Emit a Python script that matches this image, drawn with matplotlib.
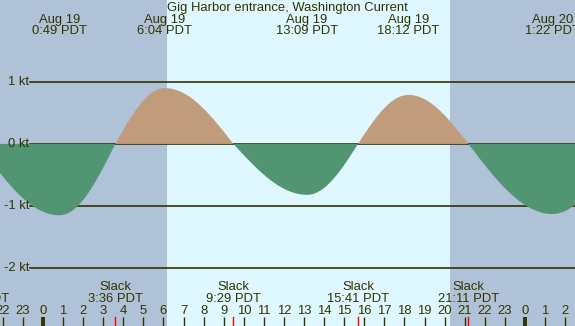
import matplotlib
matplotlib.use("Agg")
import matplotlib.pyplot as plt
import matplotlib.transforms as mtransforms
import numpy as np

# ---------------------------------------------------------------------------
# Data (hours since Aug 19 00:00 PDT)
# ---------------------------------------------------------------------------
event_hours = [-3.22, 0.817, 3.6, 6.067, 9.483, 13.15, 15.683, 18.2, 21.183, 25.367, 28.75]
event_kt    = [0.0, -1.15, 0.0, 0.90, 0.0, -0.82, 0.0, 0.79, 0.0, -1.13, 0.0]

peak_hours  = [0.817, 6.067, 13.15, 18.2, 25.367]
peak_dates  = ["Aug 19", "Aug 19", "Aug 19", "Aug 19", "Aug 20"]
peak_labels = ["0:49 PDT", "6:04 PDT", "13:09 PDT", "18:12 PDT", "1:22 PDT"]

slack_hours  = [-3.22, 3.6, 9.483, 15.683, 21.183]
slack_labels = ["20:47 PDT", "3:36 PDT", "9:29 PDT", "15:41 PDT", "21:11 PDT"]

sunrise, sunset = 6.16, 20.27
kt_levels = [1, 0, -1, -2]
hour_ticks = list(range(-2, 27))

# ---------------------------------------------------------------------------
# Style
# ---------------------------------------------------------------------------
C_TEXT  = "#333300"
C_NIGHT = "#b0c2d8"
C_DAY   = "#dff7fe"
C_FLOOD = "#c09c7c"
C_EBB   = "#529572"
FS = 9.4
plt.rcParams["font.family"] = ["Liberation Sans", "DejaVu Sans"]

X0, X1 = -2.14, 26.49
Y0, Y1 = -2.935, 2.32

fig = plt.figure(figsize=(5.75, 3.26), dpi=100)
ax = fig.add_axes([0, 0, 1, 1])
ax.set_xlim(X0, X1)
ax.set_ylim(Y0, Y1)
ax.axis("off")
tr = mtransforms.blended_transform_factory(ax.transData, ax.transAxes)
H = 326.0


def ypx(p):
    """pixel row from top -> axes fraction"""
    return 1 - p / H


# background: night / day
ax.axvspan(X0, sunrise, color=C_NIGHT, zorder=0, lw=0)
ax.axvspan(sunrise, sunset, color=C_DAY, zorder=0, lw=0)
ax.axvspan(sunset, X1, color=C_NIGHT, zorder=0, lw=0)

# current curve: quarter-sine segments between slack and peak events
t = np.linspace(X0, X1, 1200)
v = np.zeros_like(t)
for i in range(len(event_hours) - 1):
    a, b = event_hours[i], event_hours[i + 1]
    va, vb = event_kt[i], event_kt[i + 1]
    m = (t >= a) & (t <= b)
    f = (t[m] - a) / (b - a)
    if va == 0:
        v[m] = vb * np.sin(np.pi / 2 * f)
    else:
        v[m] = va * np.cos(np.pi / 2 * f)

# kt grid lines + labels
xline = X0 + 30 / 575 * (X1 - X0)
for k in kt_levels:
    ax.plot([xline, X1], [k, k], color=C_TEXT, lw=1.2, zorder=1)
    ax.text(X0 + 29 / 575 * (X1 - X0), k, f"{k} kt", fontsize=FS, color=C_TEXT,
            ha="right", va="center", zorder=3)

ax.fill_between(t, 0, v, where=v >= 0, color=C_FLOOD, lw=0, zorder=2)
ax.fill_between(t, 0, v, where=v <= 0, color=C_EBB, lw=0, zorder=2)

# title and peak labels
ax.text(0.5, ypx(7.5), "Gig Harbor entrance, Washington Current",
        transform=ax.transAxes, fontsize=FS, color=C_TEXT,
        ha="center", va="center", zorder=4)
for h, d, lab in zip(peak_hours, peak_dates, peak_labels):
    ax.text(h, ypx(20), d, transform=tr, fontsize=FS, color=C_TEXT,
            ha="center", va="center", zorder=4)
    ax.text(h, ypx(31.5), lab, transform=tr, fontsize=FS, color=C_TEXT,
            ha="center", va="center", zorder=4)

# slack labels and red ticks
for h, lab in zip(slack_hours, slack_labels):
    ax.text(h, ypx(287.5), "Slack", transform=tr, fontsize=FS, color=C_TEXT,
            ha="center", va="center", zorder=4)
    ax.text(h, ypx(299.5), lab, transform=tr, fontsize=FS, color=C_TEXT,
            ha="center", va="center", zorder=4)
    ax.plot([h, h], [0, ypx(317)], transform=tr, color="red", lw=1, zorder=4)

# hour ticks
for h in hour_ticks:
    ax.text(h, ypx(311.5), str(h % 24), transform=tr, fontsize=FS, color=C_TEXT,
            ha="center", va="center", zorder=4)
    ax.plot([h, h], [0, ypx(317)], transform=tr, color=C_TEXT,
            lw=2.8 if h % 24 == 0 else 1, solid_capstyle="butt", zorder=4)

fig.savefig("out.png", dpi=100, facecolor="white")
